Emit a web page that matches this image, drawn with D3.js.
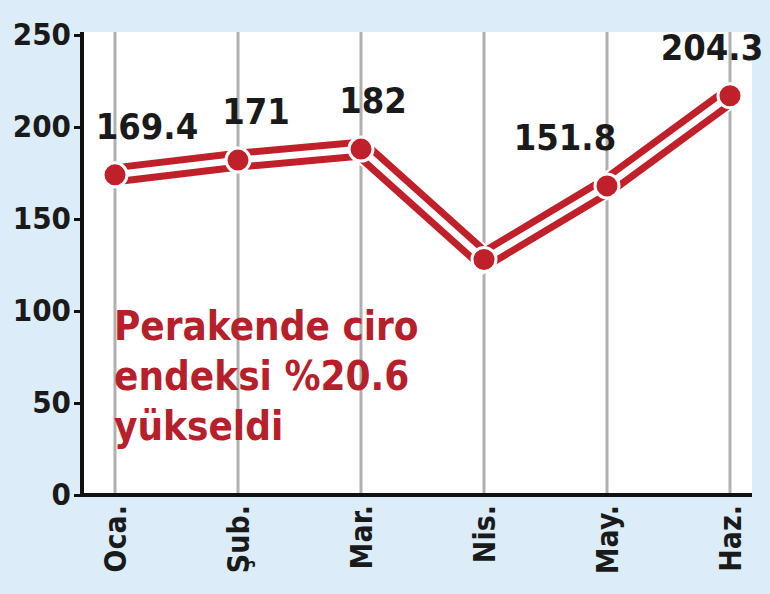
<!DOCTYPE html>
<html><head><meta charset="utf-8">
<script src="https://cdn.jsdelivr.net/npm/d3@7"></script>
<style>body{margin:0;background:#dcedf9}</style>
</head><body>
<svg id="chart" width="770" height="594"></svg>
<script>
var months = ["Oca.", "Şub.", "Mar.", "Nis.", "May.", "Haz."];
var values = [174, 182, 188, 128, 168, 217];
var labels = ["169.4", "171", "182", "", "151.8", "204.3"];
var labelShift = [32, 18, 12, 0, -42, -18];
var yTicks = [0, 50, 100, 150, 200, 250];

var svg = d3.select("#chart");
var font = "'DejaVu Sans Condensed','DejaVu Sans',sans-serif";
var pLeft = 82, pRight = 752, pTop = 32, pBottom = 495;

var x = d3.scalePoint().domain(months).range([115, 730]);
var y = d3.scaleLinear().domain([0, 250]).range([pBottom, 35]);

svg.append("rect").attr("x", pLeft).attr("y", pTop).attr("width", pRight - pLeft).attr("height", pBottom - pTop).attr("fill", "white");

svg.append("g").selectAll("line").data(months).join("line")
    .attr("x1", d => x(d)).attr("x2", d => x(d)).attr("y1", pTop).attr("y2", pBottom)
    .attr("stroke", "#b0b0b0").attr("stroke-width", 3);

var yAxis = svg.append("g").attr("transform", `translate(${pLeft},0)`)
    .call(d3.axisLeft(y).tickValues(yTicks).tickSize(8).tickPadding(3));
yAxis.select(".domain").remove();
yAxis.selectAll("line").attr("stroke", "#111").attr("stroke-width", 3);
yAxis.selectAll("text").attr("fill", "#1a1a1a").style("font", "bold 31px " + font).style("font-stretch", "condensed");

svg.append("line").attr("x1", pLeft).attr("x2", pLeft).attr("y1", pTop).attr("y2", pBottom + 2).attr("stroke", "#111").attr("stroke-width", 4);
svg.append("line").attr("x1", pLeft).attr("x2", pRight).attr("y1", pBottom).attr("y2", pBottom).attr("stroke", "#111").attr("stroke-width", 4);

svg.append("g").selectAll("text").data(months).join("text")
    .attr("transform", d => `translate(${x(d) + 11},${pBottom + 10}) rotate(-90)`)
    .attr("text-anchor", "end").attr("fill", "#1a1a1a")
    .style("font", "bold 30px " + font).style("font-stretch", "condensed").text(d => d);

var pts = months.map((m, i) => [x(m), y(values[i])]);
var line = d3.line();
[["white", 25], ["#c0202a", 21], ["white", 7]].forEach(s => {
    svg.append("path").attr("d", line(pts)).attr("fill", "none")
        .attr("stroke", s[0]).attr("stroke-width", s[1]).attr("stroke-linejoin", "miter");
});

svg.append("g").selectAll("circle").data(pts).join("circle")
    .attr("cx", d => d[0]).attr("cy", d => d[1]).attr("r", 12)
    .attr("fill", "#c0202a").attr("stroke", "white").attr("stroke-width", 3);

svg.append("g").selectAll("text").data(months).join("text")
    .attr("x", (d, i) => x(d) + labelShift[i])
    .attr("y", (d, i) => y(values[i]) - 36)
    .attr("text-anchor", "middle").attr("fill", "#1a1a1a")
    .style("font", "bold 36px " + font).style("font-stretch", "condensed").text((d, i) => labels[i]);

var note = svg.append("text").attr("fill", "#b5202b").style("font", "bold 40px " + font).style("font-stretch", "condensed");
["Perakende ciro", "endeksi %20.6", "yükseldi"].forEach((t, i) => {
    note.append("tspan").attr("x", 114).attr("y", 340 + i * 50).text(t);
});
</script>
</body></html>
